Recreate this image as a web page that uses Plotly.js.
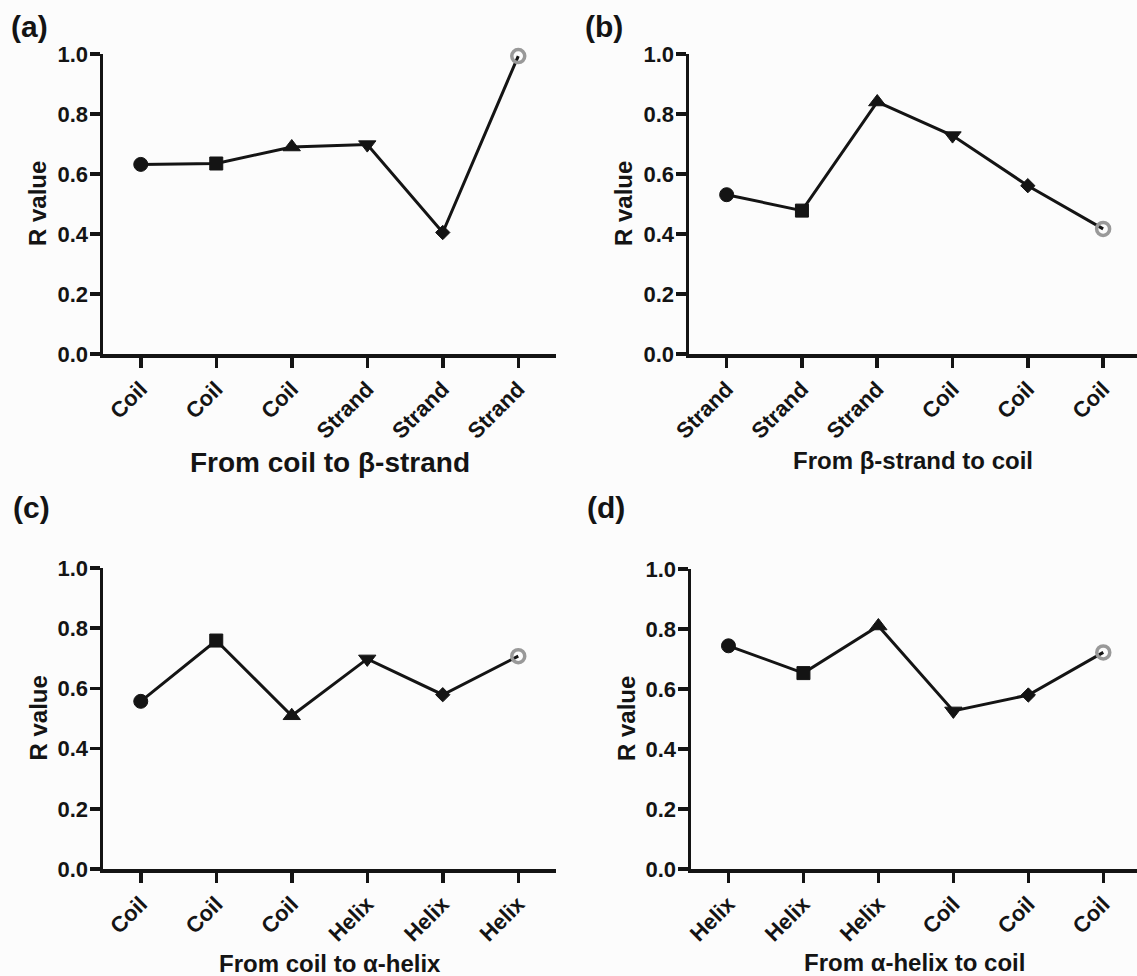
<!DOCTYPE html>
<html>
<head>
<meta charset="utf-8">
<script src="https://cdn.plot.ly/plotly-3.0.1.min.js"></script>
<style>html,body{margin:0;padding:0;background:#fcfcfc;}#chart{width:1137px;height:976px;}</style>
</head>
<body>
<div id="chart"></div>
<script>
// ---- data ----
const labelsA = ['Coil', 'Coil', 'Coil', 'Strand', 'Strand', 'Strand'];
const valuesA = [0.632, 0.635, 0.690, 0.698, 0.405, 0.993];
const labelsB = ['Strand', 'Strand', 'Strand', 'Coil', 'Coil', 'Coil'];
const valuesB = [0.531, 0.478, 0.840, 0.728, 0.561, 0.417];
const labelsC = ['Coil', 'Coil', 'Coil', 'Helix', 'Helix', 'Helix'];
const valuesC = [0.557, 0.759, 0.509, 0.698, 0.579, 0.707];
const labelsD = ['Helix', 'Helix', 'Helix', 'Coil', 'Coil', 'Coil'];
const valuesD = [0.744, 0.653, 0.810, 0.527, 0.580, 0.722];
const xTitles = ['From coil to β-strand', 'From β-strand to coil', 'From coil to α-helix', 'From α-helix to coil'];
const panelLabels = ['(a)', '(b)', '(c)', '(d)'];
const yTitle = 'R value';
const yTickVals = [0, 0.2, 0.4, 0.6, 0.8, 1.0];

// ---- styling ----
const FONT = 'Liberation Sans, Arial, Helvetica, sans-serif';
const INK = '#141414';
const symbols = ['circle', 'square', 'triangle-up', 'triangle-down', 'diamond', 'circle-open'];
const mColors = [INK, INK, INK, INK, INK, '#999999'];
const mSizes = [14, 13, 15, 15, 11, 13];
const mLineW = [1, 1, 1, 1, 1, 3.5];

const panels = [
  {labels: labelsA, values: valuesA},
  {labels: labelsB, values: valuesB},
  {labels: labelsC, values: valuesC},
  {labels: labelsD, values: valuesD}
];

const W = 1137, H = 976;
const px = v => v / W;
const py = v => (H - v) / H;
// pixel boxes of each plot area [left, right, top(y=1), bottom(y=0)]
const boxes = [
  [103, 556, 54, 354],
  [689, 1137, 54, 354],
  [103, 556, 568, 869],
  [691, 1137, 569, 869]
];
const xRanges = [[-0.5, 5.5], [-0.5, 5.45], [-0.5, 5.5], [-0.5, 5.45]];
const xTitleY = [462, 460, 963, 962];
const xTitleSize = [28, 24, 24, 24];
const panelLabelPos = [[29, 27], [604, 27], [31, 508], [606, 507]];

const data = [];
const layout = {
  width: W, height: H,
  margin: {l: 0, r: 0, t: 0, b: 0},
  paper_bgcolor: '#fcfcfc',
  plot_bgcolor: '#fcfcfc',
  showlegend: false,
  font: {family: FONT, color: INK, weight: 'bold'},
  annotations: []
};

panels.forEach((p, i) => {
  const n = i + 1;
  const xa = 'x' + (n === 1 ? '' : n);
  const ya = 'y' + (n === 1 ? '' : n);
  data.push({
    type: 'scatter',
    mode: 'lines+markers',
    x: p.labels.map((_, k) => k),
    y: p.values,
    xaxis: xa, yaxis: ya,
    cliponaxis: false,
    opacity: 1,
    line: {color: INK, width: 3},
    marker: {
      symbol: symbols,
      color: mColors,
      size: mSizes,
      opacity: 1,
      line: {width: mLineW, color: mColors}
    },
    hoverinfo: 'x+y'
  });
  const b = boxes[i];
  layout['xaxis' + (n === 1 ? '' : n)] = {
    domain: [px(b[0]), Math.min(1, px(b[1]))],
    anchor: ya,
    range: xRanges[i],
    tickmode: 'array',
    tickvals: p.labels.map((_, k) => k),
    ticktext: p.labels,
    tickangle: -45,
    ticks: 'outside', ticklen: 10, tickwidth: 3.5, tickcolor: INK,
    showline: true, linewidth: 3.5, linecolor: INK,
    showgrid: false, zeroline: false,
    tickfont: {family: FONT, size: 22, color: INK, weight: 'bold'}
  };
  layout['yaxis' + (n === 1 ? '' : n)] = {
    domain: [py(b[3]), py(b[2])],
    anchor: xa,
    range: [0, 1],
    tickmode: 'array',
    tickvals: yTickVals,
    tickformat: '.1f',
    ticks: 'outside', ticklen: 10, tickwidth: 3.5, tickcolor: INK,
    ticklabelstandoff: -3,
    showline: true, linewidth: 3.5, linecolor: INK,
    showgrid: false, zeroline: false,
    tickfont: {family: FONT, size: 22, color: INK, weight: 'bold'}
  };
  // y title
  layout.annotations.push({
    text: yTitle, textangle: -90,
    xref: 'paper', yref: 'paper',
    x: px(b[0] - 65), y: py((b[2] + b[3]) / 2),
    xanchor: 'center', yanchor: 'middle', showarrow: false,
    font: {family: FONT, size: 24, color: INK, weight: 'bold'}
  });
  // x title
  layout.annotations.push({
    text: xTitles[i],
    xref: 'paper', yref: 'paper',
    x: px((b[0] + Math.min(b[1], 1137)) / 2), y: py(xTitleY[i]),
    xanchor: 'center', yanchor: 'middle', showarrow: false,
    font: {family: FONT, size: xTitleSize[i], color: INK, weight: 'bold'}
  });
  // panel label
  layout.annotations.push({
    text: panelLabels[i],
    xref: 'paper', yref: 'paper',
    x: px(panelLabelPos[i][0]), y: py(panelLabelPos[i][1]),
    xanchor: 'center', yanchor: 'middle', showarrow: false,
    font: {family: FONT, size: 30, color: INK, weight: 'bold'}
  });
});

Plotly.newPlot('chart', data, layout, {displayModeBar: false, staticPlot: true});
</script>
</body>
</html>
